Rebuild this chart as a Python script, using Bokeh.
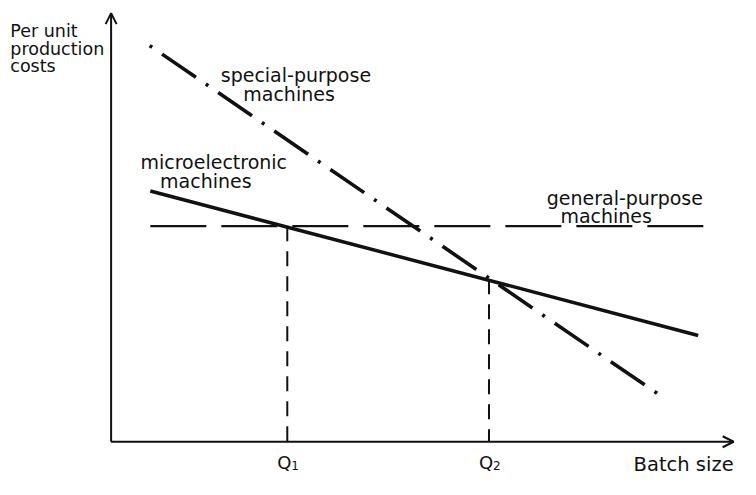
from bokeh.plotting import figure
from bokeh.models import Range1d, Label, Arrow, OpenHead
from bokeh.embed import file_html
from bokeh.resources import INLINE

# ---- data (conceptual units: batch size 0..100, unit cost 0..100) ----
special_x = [6.2, 88.4]
special_y = [92.4, 10.6]
micro_x = [6.3, 94.3]
micro_y = [58.5, 24.8]
general_x = [6.3, 95.4]
general_y = [50.3, 50.3]
q_x = [28.3, 60.7]
q_top = [50.3, 37.9]
q_subs = ["1", "2"]
axis_max_x = 100
axis_max_y = 100

# ---- layout ----
W, H = 740, 479
REF_W, REF_H = 756, 495     # reference picture size
RX0, RY0 = 113, 456          # origin in reference pixels
RSX, RSY = 6.36, 4.43        # reference pixels per data unit


def X(rx):                   # reference pixel -> data x
    return (rx - RX0) / RSX


def Y(ry):                   # reference pixel -> data y
    return (RY0 - ry) / RSY


p = figure(width=W, height=H, output_backend="svg", toolbar_location=None,
           x_range=Range1d(X(0), X(REF_W)),
           y_range=Range1d(Y(REF_H), Y(0)),
           min_border=0, x_axis_location=None, y_axis_location=None,
           outline_line_color=None, background_fill_color="white",
           border_fill_color="white")
p.grid.visible = False

INK = "#111111"

# axes with arrow heads
p.add_layout(Arrow(end=OpenHead(size=11, line_width=2, line_color=INK),
                   x_start=0, y_start=0, x_end=0, y_end=axis_max_y,
                   line_width=2, line_color=INK))
p.add_layout(Arrow(end=OpenHead(size=11, line_width=2, line_color=INK),
                   x_start=0, y_start=0, x_end=axis_max_x, y_end=0,
                   line_width=2, line_color=INK))

# general-purpose (dashed horizontal)
p.line(general_x, general_y, line_color=INK, line_width=2.2, line_dash="56 15")
# microelectronic (solid)
p.line(micro_x, micro_y, line_color=INK, line_width=3.5)
# special-purpose (dash-dot)
p.line(special_x, special_y, line_color=INK, line_width=3.6,
       line_dash="3 12 41 12", line_cap="butt")
# Q drop lines
for qx, qt in zip(q_x, q_top):
    p.line([qx, qx], [qt, 0], line_color=INK, line_width=2, line_dash="15 10")

FONT = "DejaVu Sans"


def lab(text, rx, ry, size="19px", align="left"):
    p.add_layout(Label(x=X(rx), y=Y(ry), text=text, text_font=FONT,
                       text_font_size=size, text_color=INK,
                       text_align=align, text_baseline="alphabetic"))


lab("Per unit", 10, 32, size="17.5px")
lab("production", 10, 50, size="17.5px")
lab("costs", 10, 68, size="17.5px")
lab("special-purpose", 225, 77)
lab("machines", 248, 97)
lab("microelectronic", 143, 167)
lab("machines", 163, 187)
lab("general-purpose", 558, 204)
lab("machines", 572, 223)

for qx, sub in zip(q_x, q_subs):
    p.add_layout(Label(x=qx, y=Y(477), x_offset=-3, text="Q", text_font=FONT,
                       text_font_size="18px", text_color=INK, text_align="center",
                       text_baseline="alphabetic"))
    p.add_layout(Label(x=qx, y=Y(481), x_offset=4, text=sub, text_font=FONT,
                       text_font_size="12px", text_color=INK, text_align="left",
                       text_baseline="alphabetic"))

lab("Batch size", 749, 479, size="19.5px", align="right")

open("out.html", "w").write(file_html(p, INLINE))
